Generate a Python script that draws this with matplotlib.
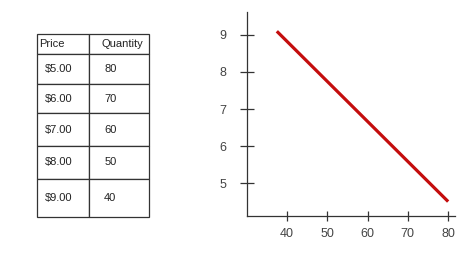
import matplotlib
matplotlib.use("Agg")
import matplotlib.pyplot as plt

plt.rcParams['font.family'] = ['Liberation Sans', 'DejaVu Sans']

# table data
col_labels = ["Price", "Quantity"]
prices = ["$5.00", "$6.00", "$7.00", "$8.00", "$9.00"]
quantities = ["80", "70", "60", "50", "40"]

# demand line (quantity, price) as drawn
line_qty = [37.5, 80]
line_price = [9.1, 4.5]

x_ticks = [40, 50, 60, 70, 80]
y_ticks = [5, 6, 7, 8, 9]

W, H = 474, 270
fig = plt.figure(figsize=(W / 100, H / 100), dpi=100)
fig.patch.set_facecolor('white')

# ---- table on the left
tab_ax = fig.add_axes([0, 0, 1, 1])
tab_ax.axis('off')
left, right, top, bottom = 36.7, 149, 34, 217
mid = 89.3
row_h = [20, 30, 29, 32, 33, 38]
cells = [[p, q] for p, q in zip(prices, quantities)]
tbl = tab_ax.table(cellText=cells, colLabels=col_labels, cellLoc='left', colLoc='left',
                   bbox=[left / W, 1 - bottom / H, (right - left) / W, (bottom - top) / H])
tbl.auto_set_font_size(False)
tbl.set_fontsize(8)
col_w = [mid - left, right - mid]
pads = {0: 0.16, 1: 0.25}
for (r, c), cell in tbl.get_celld().items():
    cell.set_width(col_w[c])
    cell.set_height(row_h[r])
    cell.set_edgecolor('#333333')
    cell.set_linewidth(0.9)
    cell.PAD = pads[c]
    if r == 0:
        cell.PAD = 0.045 if c == 0 else 0.2
    cell.get_text().set_color('#222222')

# ---- demand curve on the right
ax = fig.add_axes([247 / W, 54 / H, 208 / W, 204 / H])
ax.plot(line_qty, line_price, color='#c40d0d', linewidth=2.3, solid_capstyle='butt')
ax.set_xlim(30.1, 81.7)
ax.set_ylim(4.11, 9.62)
ax.set_xticks(x_ticks)
ax.set_xticklabels([str(v) for v in x_ticks])
ax.set_yticks(y_ticks)
ax.set_yticklabels([str(v) for v in y_ticks])
for s in ['top', 'right']:
    ax.spines[s].set_visible(False)
for s in ['left', 'bottom']:
    ax.spines[s].set_color('#333333')
    ax.spines[s].set_linewidth(0.9)
ax.tick_params(axis='y', direction='inout', length=10, width=0.9, color='#333333',
               labelsize=9, labelcolor='#444444', pad=10)
ax.tick_params(axis='x', direction='inout', length=7, width=0.9, color='#333333',
               labelsize=9, labelcolor='#444444', pad=5)

fig.savefig('out.png', dpi=100, facecolor='white')
